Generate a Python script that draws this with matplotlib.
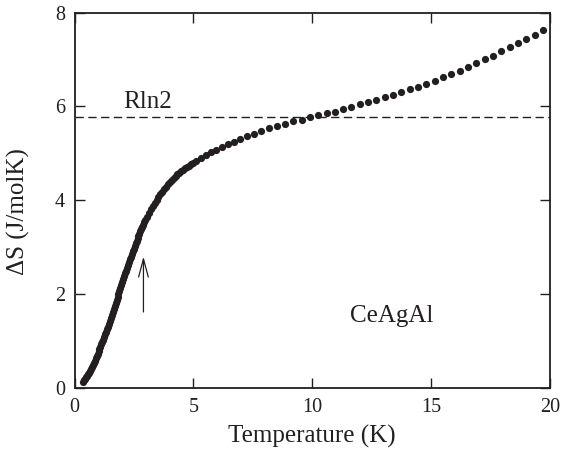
import matplotlib
matplotlib.use("Agg")
import matplotlib.pyplot as plt

# ---- data ----
temperature = [
    0.37, 0.41, 0.45, 0.49, 0.53, 0.57, 0.61, 0.65, 0.69, 0.73, 0.77, 0.81,
    0.85, 0.89, 0.93, 0.97, 1.01, 1.05, 1.09, 1.13, 1.17, 1.21, 1.25, 1.29,
    1.33, 1.37, 1.41, 1.45, 1.49, 1.53, 1.57, 1.61, 1.65, 1.69, 1.73, 1.77,
    1.81, 1.85, 1.89, 1.93, 1.97, 2.01, 2.05, 2.09, 2.13, 2.17, 2.21, 2.25,
    2.29, 2.33, 2.37, 2.41, 2.45, 2.49, 2.53, 2.57, 2.61, 2.65, 2.69, 2.73,
    2.77, 2.81, 2.85, 2.89, 2.93, 2.97,
    3.05, 3.13, 3.21, 3.29, 3.37, 3.45, 3.53, 3.61, 3.69, 3.77, 3.85, 3.93,
    4.01, 4.09, 4.17, 4.25, 4.33, 4.41, 4.49, 4.57, 4.65, 4.73, 4.81, 4.89,
    4.97,
    5.10, 5.30, 5.51, 5.73, 5.96, 6.20, 6.45, 6.71, 6.98, 7.26, 7.55, 7.85,
    8.16,
    8.50, 8.85, 9.20, 9.55, 9.90, 10.25, 10.60, 10.95, 11.30, 11.65, 12.00,
    12.35, 12.70, 13.05, 13.40, 13.75, 14.10, 14.45, 14.80, 15.15, 15.50,
    15.85, 16.20, 16.55, 16.90, 17.25, 17.60, 17.95, 18.30, 18.65, 19.00,
    19.35, 19.70,
]
entropy = [
    0.13, 0.16, 0.20, 0.23, 0.26, 0.30, 0.33, 0.37, 0.41, 0.45, 0.49, 0.53,
    0.58, 0.63, 0.68, 0.73, 0.78, 0.83, 0.88, 0.93, 0.98, 1.03, 1.09, 1.15,
    1.20, 1.26, 1.31, 1.37, 1.43, 1.49, 1.55, 1.62, 1.68, 1.74, 1.81, 1.87,
    1.94, 2.00, 2.06, 2.13, 2.19, 2.26, 2.32, 2.38, 2.44, 2.50, 2.56, 2.62,
    2.68, 2.74, 2.80, 2.86, 2.91, 2.97, 3.02, 3.08, 3.13, 3.19, 3.24, 3.29,
    3.34, 3.39, 3.44, 3.48, 3.53, 3.57,
    3.65, 3.73, 3.81, 3.88, 3.95, 4.01, 4.07, 4.13, 4.18, 4.24, 4.29, 4.34,
    4.39, 4.43, 4.47, 4.51, 4.55, 4.58, 4.62, 4.65, 4.68, 4.71, 4.74, 4.77,
    4.80,
    4.84, 4.90, 4.96, 5.02, 5.08, 5.13, 5.19, 5.25, 5.31, 5.36, 5.42, 5.47,
    5.53,
    5.58, 5.63, 5.68, 5.72, 5.77, 5.81, 5.85, 5.89, 5.94, 5.99, 6.04,
    6.09, 6.14, 6.19, 6.24, 6.30, 6.36, 6.42, 6.48, 6.55, 6.62,
    6.69, 6.76, 6.84, 6.92, 7.00, 7.08, 7.17, 7.26, 7.35, 7.44,
    7.53, 7.62,
]
rln2 = 5.763
x_ticks = [0, 5, 10, 15, 20]
y_ticks = [0, 2, 4, 6, 8]
arrow_x = 2.9
arrow_from = 1.62
arrow_to = 2.80

plt.rcParams['font.family'] = ['Liberation Serif', 'DejaVu Serif']

fig = plt.figure(figsize=(5.61, 4.59), dpi=100)
ax = fig.add_axes([74.5 / 561, 1 - 388 / 459, 475.5 / 561, 375.5 / 459])

ax.plot(temperature, entropy, linestyle='none', marker='o', markersize=5.2,
        color='#231f20', markeredgewidth=0, zorder=3)
ax.axhline(rln2, color='#231f20', linewidth=1.0, dashes=(6, 3.2), zorder=2)

ax.annotate('', xy=(arrow_x, arrow_to), xytext=(arrow_x, arrow_from),
            arrowprops=dict(arrowstyle='->,head_length=1.3,head_width=0.35',
                            color='#231f20', linewidth=0.9,
                            shrinkA=0, shrinkB=0))

ax.text(2.03, 5.97, 'Rln2', fontsize=18, color='#231f20', ha='left',
        va='baseline')
ax.text(11.6, 1.40, 'CeAgAl', fontsize=18, color='#231f20', ha='left',
        va='baseline')

ax.set_xlim(0, 20)
ax.set_ylim(0, 8)
ax.set_xticks(x_ticks)
ax.set_yticks(y_ticks)
ax.tick_params(direction='in', length=7, width=1.0, top=True, right=True,
               labelsize=14.5, pad=7, colors='#231f20')
for s in ax.spines.values():
    s.set_linewidth(1.3)
    s.set_color('#231f20')

ax.set_xlabel('Temperature (K)', fontsize=18, color='#231f20', labelpad=6)
ax.set_ylabel('ΔS (J/molK)', fontsize=18, color='#231f20')
ax.yaxis.set_label_coords(-0.094, 0.47)

fig.savefig('out.png', dpi=100)
